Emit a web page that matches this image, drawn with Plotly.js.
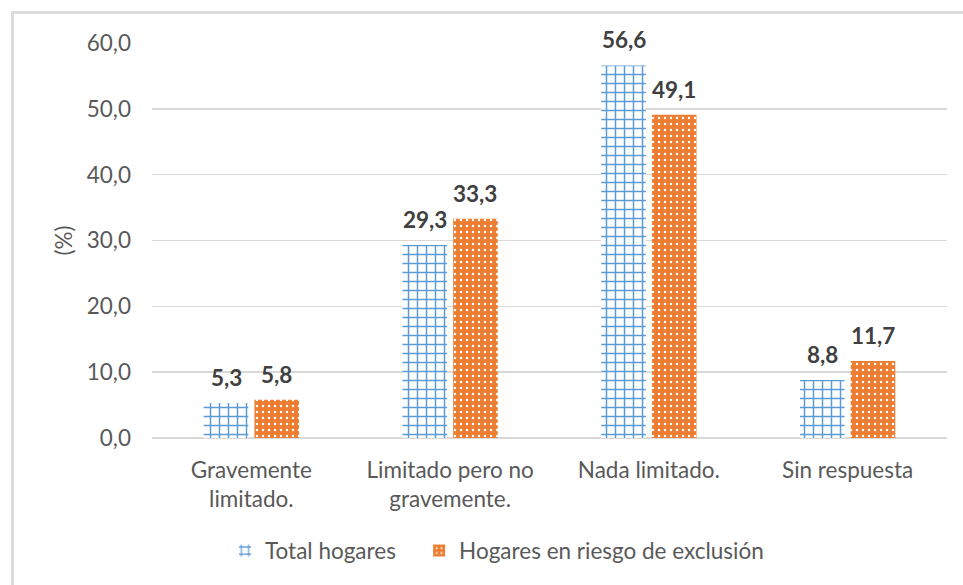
<!DOCTYPE html>
<html>
<head>
<meta charset="utf-8">
<script src="https://cdn.plot.ly/plotly-3.0.1.min.js"></script>
<style>
html,body{margin:0;padding:0;background:#fff;}
#wrap{position:relative;width:963px;height:585px;overflow:hidden;}
#chart{width:963px;height:585px;}
#frame{position:absolute;left:11px;top:11px;width:980px;height:600px;border:3px solid #dcdcdc;pointer-events:none;box-sizing:border-box;}
</style>
</head>
<body>
<div id="wrap"><div id="chart"></div><div id="frame"></div></div>
<script>
var categories = ["Gravemente<br>limitado.", "Limitado pero no<br>gravemente.", "Nada limitado.", "Sin respuesta"];
var totalHogares = [5.3, 29.3, 56.6, 8.8];
var hogaresRiesgo = [5.8, 33.3, 49.1, 11.7];
var seriesNames = ["Total hogares", "Hogares en riesgo de exclusión"];
var yTicks = [0, 10, 20, 30, 40, 50, 60];
var yTickLabels = ["0,0", "10,0", "20,0", "30,0", "40,0", "50,0", "60,0"];

function fmt(v){ return v.toFixed(1).replace('.', ','); }

var FONT = "Lato, 'Open Sans', sans-serif";
var FS = 22.5;
var BARGAP = 0.49;
var labelFont = {family: FONT, size: FS, color: '#404040', weight: 'bold'};
var legendFont = {family: FONT, size: FS, color: '#595959'};

var traces = [
  {
    type: 'bar', name: seriesNames[0], x: categories, y: totalHogares, legend: 'legend',
    marker: {color: '#5B9BD5', line: {width: 0},
      pattern: {shape: '+', fgcolor: '#5B9BD5', bgcolor: '#ffffff', size: 9, solidity: 0.3, fillmode: 'replace'}}
  },
  {
    type: 'bar', name: seriesNames[1], x: categories, y: hogaresRiesgo, legend: 'legend2',
    marker: {color: '#ED7D31', line: {width: 0},
      pattern: {shape: '.', fgcolor: '#ffffff', bgcolor: '#ED7D31', size: 6, solidity: 0.14, fillmode: 'replace'}}
  }
];

// data labels placed above each bar, from the data arrays
var slot = (1 - BARGAP) / 2;
var annotations = [];
[totalHogares, hogaresRiesgo].forEach(function(series, s){
  series.forEach(function(v, i){
    annotations.push({
      x: i + (s === 0 ? -slot / 2 : slot / 2), y: v, xref: 'x', yref: 'y',
      text: fmt(v), showarrow: false, yanchor: 'bottom', xanchor: 'center',
      yshift: 10, font: labelFont
    });
  });
});

var layout = {
  width: 963, height: 585,
  paper_bgcolor: '#ffffff', plot_bgcolor: '#ffffff',
  margin: {l: 152, r: 16, t: 43, b: 147},
  barmode: 'group', bargap: BARGAP, bargroupgap: 0.12,
  font: {family: FONT, color: '#595959', size: FS},
  showlegend: true,
  legend: {orientation: 'h', x: 0.0918, xanchor: 'left', y: -0.286, yanchor: 'middle',
    font: legendFont, itemwidth: 30},
  legend2: {orientation: 'h', x: 0.336, xanchor: 'left', y: -0.286, yanchor: 'middle',
    font: legendFont, itemwidth: 30},
  annotations: annotations,
  xaxis: {
    type: 'category', showgrid: false, zeroline: false, showline: false,
    tickfont: {family: FONT, size: FS, color: '#595959'}, ticks: '', ticklabelstandoff: 16,
    fixedrange: true
  },
  yaxis: {
    range: [0, 60], tickvals: yTicks, ticktext: yTickLabels,
    showgrid: true, gridcolor: '#d9d9d9', gridwidth: 1.6,
    zeroline: true, zerolinecolor: '#d9d9d9', zerolinewidth: 1.6,
    showline: false, ticks: '', ticklabelstandoff: 20,
    tickfont: {family: FONT, size: FS, color: '#595959'},
    title: {text: '(%)', font: {family: FONT, size: FS, color: '#595959'}, standoff: 7},
    fixedrange: true
  }
};

Plotly.newPlot('chart', traces, layout, {displayModeBar: false, staticPlot: true});
</script>
</body>
</html>
